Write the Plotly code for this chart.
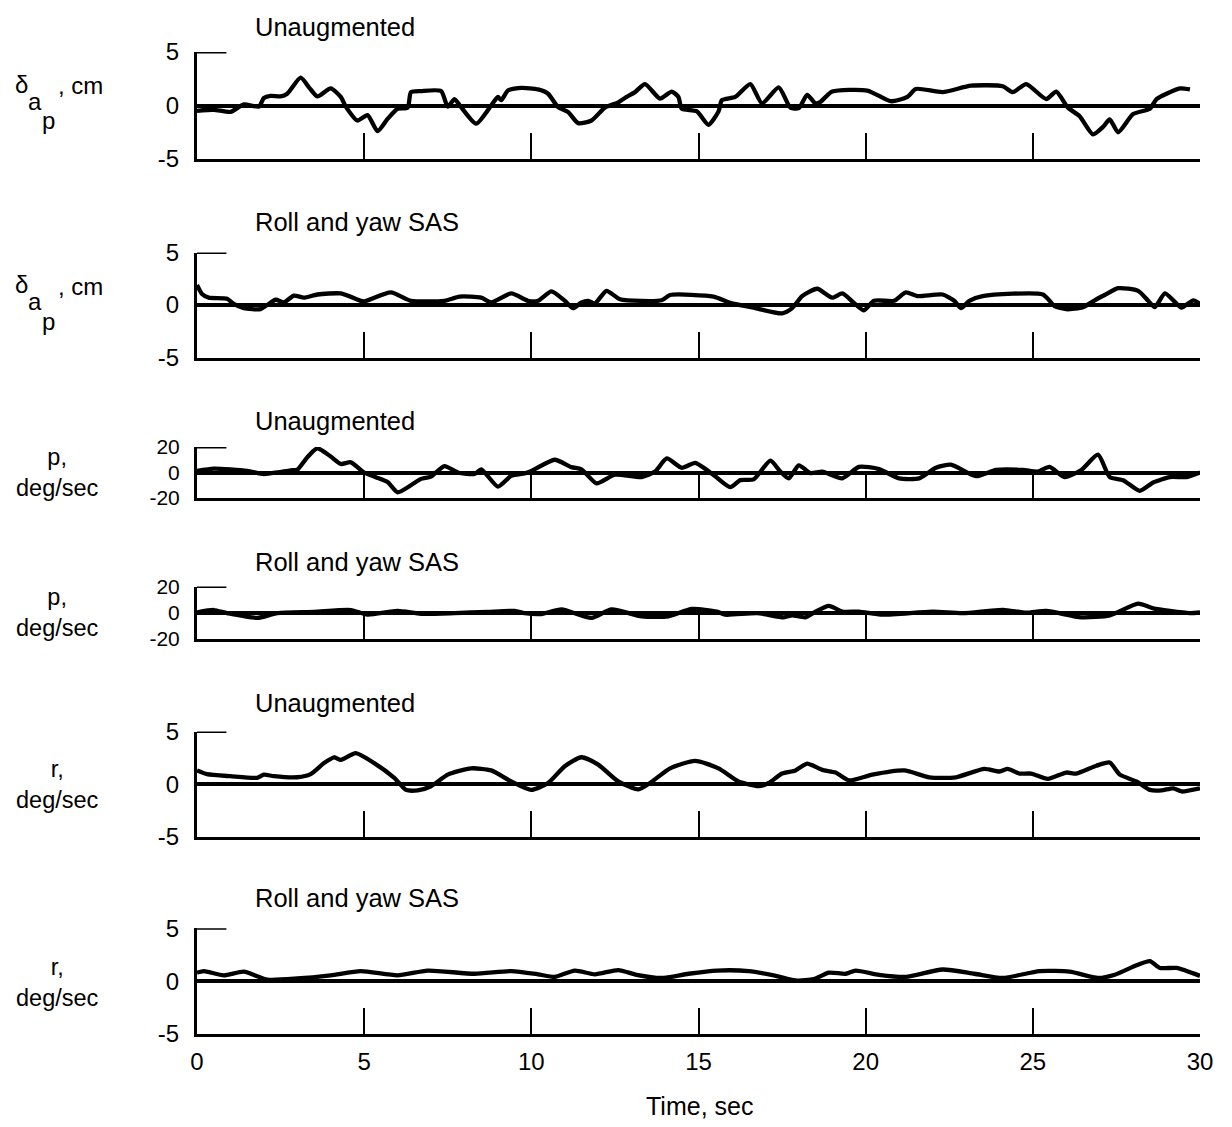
import plotly.graph_objects as go

# ---------------- data (time in sec, value) ----------------
DAP_UNAUG = [(0, -0.5), (0.5, -0.4), (1.0, -0.6), (1.4, 0.1), (1.85, -0.1), (2.0, 0.7), (2.2, 0.9),
             (2.5, 0.85), (2.7, 1.1), (3.1, 2.6), (3.35, 1.7), (3.6, 0.85), (4.0, 1.6), (4.3, 0.8),
             (4.45, -0.1), (4.8, -1.4), (5.1, -0.9), (5.4, -2.4), (5.7, -1.25), (6.0, -0.3), (6.3, -0.2),
             (6.4, 1.25), (6.7, 1.35), (7.3, 1.35), (7.5, -0.1), (7.7, 0.6), (7.9, -0.15), (8.35, -1.7),
             (8.8, 0.0), (9.0, 0.8), (9.1, 0.5), (9.3, 1.4), (9.7, 1.65), (10.2, 1.5), (10.5, 1.1),
             (10.8, -0.15), (11.1, -0.6), (11.4, -1.65), (11.8, -1.4), (12.2, -0.2), (12.6, 0.3),
             (12.85, 0.8), (13.1, 1.25), (13.4, 2.0), (13.85, 0.65), (14.2, 1.3), (14.4, 0.8), (14.5, -0.3),
             (14.95, -0.55), (15.3, -1.8), (15.6, -0.55), (15.7, 0.5), (16.1, 0.8), (16.55, 2.0), (16.9, 0.2),
             (17.4, 1.7), (17.75, -0.2), (18.0, -0.25), (18.25, 1.0), (18.5, 0.2), (18.65, 0.35), (19.0, 1.3),
             (20.05, 1.4), (20.75, 0.4), (21.25, 0.8), (21.5, 1.55), (22.3, 1.25), (23.15, 1.85), (24.1, 1.8),
             (24.4, 1.25), (24.8, 2.0), (25.4, 0.6), (25.7, 1.3), (26.05, -0.2), (26.4, -1.0), (26.8, -2.7),
             (27.1, -2.0), (27.3, -1.3), (27.55, -2.5), (28.0, -0.8), (28.5, -0.3), (28.7, 0.6), (29.0, 1.1),
             (29.4, 1.6), (29.7, 1.5)]

DAP_SAS = [(0, 1.9), (0.15, 1.05), (0.35, 0.7), (0.9, 0.6), (1.1, 0.1), (1.4, -0.3), (1.9, -0.4), (2.1, 0.0),
           (2.35, 0.5), (2.6, 0.25), (2.9, 0.9), (3.2, 0.7), (3.6, 1.0), (4.3, 1.1), (4.9, 0.4), (5.0, 0.35),
           (5.8, 1.2), (6.4, 0.4), (7.4, 0.4), (7.85, 0.8), (8.5, 0.7), (8.8, 0.25), (9.4, 1.1), (9.9, 0.4),
           (10.2, 0.4), (10.6, 1.3), (11.0, 0.4), (11.25, -0.3), (11.5, 0.25), (11.7, 0.4), (11.9, 0.15),
           (12.25, 1.35), (12.65, 0.55), (13.9, 0.45), (14.15, 0.95), (15.45, 0.8), (15.95, 0.2), (16.7, -0.3),
           (17.5, -0.8), (17.8, -0.3), (18.1, 0.85), (18.55, 1.55), (19.0, 0.7), (19.3, 1.1), (19.65, 0.2),
           (19.95, -0.5), (20.25, 0.4), (20.85, 0.4), (21.2, 1.2), (21.55, 0.85), (22.3, 1.0), (22.65, 0.4),
           (22.85, -0.3), (23.1, 0.4), (23.5, 0.85), (25.3, 1.0), (25.65, -0.1), (26.0, -0.4), (26.5, -0.2),
           (26.85, 0.45), (27.15, 0.95), (27.55, 1.6), (28.15, 1.35), (28.45, 0.4), (28.65, -0.2), (28.95, 1.1),
           (29.2, 0.45), (29.45, -0.25), (29.8, 0.45), (30, 0.1)]

P_UNAUG = [(0, 1.2), (0.5, 3.0), (1.5, 1.2), (2.0, -1.2), (2.4, 0.0), (2.8, 1.7), (3.0, 2.2), (3.3, 12.0),
           (3.6, 19.0), (4.0, 12.5), (4.3, 6.7), (4.6, 8.0), (5.0, 0.0), (5.35, -3.7), (5.7, -7.5), (6.0, -15.5),
           (6.4, -10.0), (6.7, -5.0), (7.0, -3.2), (7.4, 5.0), (7.8, 0.0), (8.3, -1.2), (8.5, 2.5), (9.0, -11.0),
           (9.4, -2.5), (9.8, -0.7), (10.0, 1.2), (10.7, 10.0), (11.2, 4.2), (11.5, 2.5), (11.95, -8.5),
           (12.5, -1.7), (13.3, -3.6), (13.7, 0.7), (14.05, 11.0), (14.5, 3.7), (14.9, 7.5), (15.25, 2.0),
           (15.5, -2.9), (15.95, -11.5), (16.25, -6.0), (16.65, -5.4), (17.15, 9.3), (17.45, 0.7), (17.7, -4.6),
           (18.0, 5.6), (18.35, -0.5), (18.7, 0.7), (19.3, -4.6), (19.8, 4.4), (20.4, 2.7), (21.0, -4.6),
           (21.6, -4.6), (22.1, 3.7), (22.55, 6.1), (23.3, -2.9), (23.9, 2.0), (24.7, 2.0), (25.15, 0.7),
           (25.5, 4.4), (25.95, -3.6), (26.45, 2.0), (26.95, 14.0), (27.3, -3.6), (27.7, -6.0), (28.2, -14.4),
           (28.6, -7.8), (29.1, -3.6), (29.6, -3.6), (30, 0.0)]

P_SAS = [(0, 0.0), (0.5, 1.9), (0.9, -0.5), (1.8, -4.2), (2.4, -0.5), (3.5, 0.5), (4.6, 1.9), (5.1, -1.6),
         (6.0, 1.2), (6.7, -1.0), (7.7, -0.5), (8.7, 0.5), (9.5, 1.2), (9.8, -0.5), (10.3, -1.2), (10.9, 2.4),
         (11.8, -4.2), (12.4, 2.4), (13.3, -3.0), (14.1, -3.0), (14.8, 2.7), (15.55, 0.7), (15.8, -1.7),
         (16.75, -0.5), (17.55, -3.7), (17.8, -2.2), (18.2, -3.7), (18.5, 0.7), (18.9, 5.1), (19.3, 0.7),
         (19.8, 0.7), (20.5, -1.7), (22.0, 0.7), (22.9, -0.5), (24.1, 2.0), (24.8, -0.2), (25.4, 1.2),
         (26.45, -3.7), (27.3, -2.2), (28.15, 6.8), (28.6, 3.2), (29.1, 1.2), (29.7, -0.5), (30, 0.0)]

R_UNAUG = [(0, 1.3), (0.3, 0.95), (1.0, 0.75), (1.8, 0.6), (2.0, 0.9), (2.3, 0.75), (3.0, 0.65), (3.4, 0.95),
           (3.8, 2.0), (4.1, 2.55), (4.3, 2.3), (4.75, 2.95), (5.3, 2.0), (5.9, 0.6), (6.25, -0.55), (6.6, -0.6),
           (7.0, -0.2), (7.5, 0.9), (8.2, 1.5), (8.8, 1.3), (9.4, 0.25), (10.0, -0.55), (10.5, 0.1), (11.0, 1.7),
           (11.5, 2.55), (12.0, 1.85), (12.6, 0.25), (13.2, -0.5), (13.55, 0.1), (14.15, 1.5), (14.9, 2.2),
           (15.6, 1.5), (16.2, 0.25), (16.8, -0.2), (17.1, 0.1), (17.5, 1.0), (17.9, 1.3), (18.25, 1.95),
           (18.7, 1.35), (19.1, 1.1), (19.5, 0.35), (20.2, 0.9), (21.15, 1.3), (21.9, 0.65), (22.7, 0.65),
           (23.55, 1.45), (24.0, 1.2), (24.25, 1.45), (24.6, 1.0), (24.95, 1.0), (25.45, 0.5), (26.0, 1.1),
           (26.3, 1.0), (26.9, 1.75), (27.3, 2.05), (27.6, 0.9), (28.1, 0.25), (28.5, -0.55), (28.85, -0.6),
           (29.2, -0.4), (29.45, -0.7), (30, -0.4)]

R_SAS = [(0, 0.8), (0.2, 0.95), (0.8, 0.55), (1.4, 0.9), (2.1, 0.15), (3.0, 0.25), (4.0, 0.55), (4.9, 0.95),
         (6.0, 0.55), (6.9, 1.0), (8.3, 0.7), (9.4, 0.95), (10.2, 0.65), (10.7, 0.4), (11.3, 1.0), (11.9, 0.65),
         (12.6, 1.05), (13.15, 0.6), (13.9, 0.3), (14.7, 0.7), (15.55, 1.0), (16.5, 0.95), (17.25, 0.55),
         (17.95, 0.05), (18.45, 0.2), (18.9, 0.8), (19.4, 0.7), (19.7, 1.0), (20.4, 0.6), (21.2, 0.4),
         (22.3, 1.1), (23.25, 0.7), (24.1, 0.3), (25.2, 0.95), (26.1, 0.9), (26.95, 0.3), (27.45, 0.6),
         (28.1, 1.5), (28.5, 1.9), (28.8, 1.25), (29.3, 1.25), (30, 0.5)]

TITLES = ["Unaugmented", "Roll and yaw SAS", "Unaugmented", "Roll and yaw SAS", "Unaugmented", "Roll and yaw SAS"]
SERIES = [DAP_UNAUG, DAP_SAS, P_UNAUG, P_SAS, R_UNAUG, R_SAS]
YLIMS = [5, 5, 20, 20, 5, 5]
X_TICKS = [0, 5, 10, 15, 20, 25, 30]
X_RANGE = [0, 30]
STUB = 0.88  # length (sec) of the short top stub

# ---------------- layout (pixel geometry, in reference-page pixels) ----------------
PAGE_W, PAGE_H = 1232, 1127
OFF = 8                      # default page body margin
W, H = PAGE_W - 2 * OFF, PAGE_H - 2 * OFF
X0_PX, X1_PX = 197, 1200
PANEL_PX = [(52, 159), (252.5, 357.5), (447, 498), (586.5, 638.5), (731.5, 836.7), (928.3, 1034)]
TITLE_PX = [27, 222, 421, 562, 703, 898]
FONT = "Liberation Sans, Arial, sans-serif"


def yp(p):
    return 1 - (p - OFF) / H


def xp(p):
    return (p - OFF) / W


fig = go.Figure()
layout = dict(width=W, height=H, margin=dict(l=0, r=0, t=0, b=0),
              paper_bgcolor="white", plot_bgcolor="white", showlegend=False,
              font=dict(family=FONT, color="black", size=24))
shapes = []
annotations = []

for i, (data, lim) in enumerate(zip(SERIES, YLIMS)):
    n = i + 1
    sfx = "" if n == 1 else str(n)
    t = [d[0] for d in data]
    v = [d[1] for d in data]
    fig.add_trace(go.Scatter(x=t, y=v, mode="lines", xaxis="x" + sfx, yaxis="y" + sfx,
                             line=dict(color="black", width=4.3, shape="spline", smoothing=0.6),
                             hoverinfo="skip"))
    top, bot = PANEL_PX[i]
    small = lim > 5
    layout["xaxis" + sfx] = dict(domain=[xp(X0_PX), xp(X1_PX)], range=X_RANGE, anchor="y" + sfx,
                                 showgrid=False, zeroline=False, showline=True, linecolor="black",
                                 linewidth=2.5, ticks="inside", ticklen=26, tickwidth=2, tickcolor="black",
                                 tickvals=X_TICKS, showticklabels=(n == 6), ticklabelstandoff=4,
                                 tickfont=dict(size=24), automargin=False, fixedrange=True)
    layout["yaxis" + sfx] = dict(domain=[yp(bot), yp(top)], range=[-lim, lim], anchor="x" + sfx,
                                 showgrid=False, zeroline=True, zerolinecolor="black", zerolinewidth=4,
                                 showline=True, linecolor="black", linewidth=3, ticks="",
                                 tickvals=[-lim, 0, lim], ticktext=["-%d" % lim, "0", "%d" % lim],
                                 ticklabelstandoff=10, tickfont=dict(size=21 if small else 24),
                                 automargin=False, fixedrange=True)
    shapes.append(dict(type="line", xref="x" + sfx, yref="y" + sfx, x0=0, x1=STUB, y0=lim, y1=lim,
                       line=dict(color="black", width=3)))
    annotations.append(dict(text=TITLES[i], xref="paper", yref="paper", x=xp(253), y=yp(TITLE_PX[i]),
                            xanchor="left", yanchor="middle", showarrow=False, font=dict(size=25.5)))


# y-axis labels
def lab(text, x, y, size=24, anchor="center"):
    annotations.append(dict(text=text, xref="paper", yref="paper", x=xp(x), y=yp(y), xanchor=anchor,
                            yanchor="middle", showarrow=False, font=dict(size=size), borderpad=0))


for off in (0, 200):
    lab("δ", 21, 84 + off)
    lab("a", 35, 101 + off)
    lab("p", 48, 121 + off)
    lab(", cm", 57, 86 + off, anchor="left")

for (l1, yc) in [("p,", 472), ("p,", 612), ("r,", 785), ("r,", 982)]:
    lab(l1 + "<br>deg/sec", 57, yc, size=23.5)

lab("Time, sec", 699, 1106, size=25)

layout["shapes"] = shapes
layout["annotations"] = annotations
fig.update_layout(**layout)
fig.write_html("out.html")
